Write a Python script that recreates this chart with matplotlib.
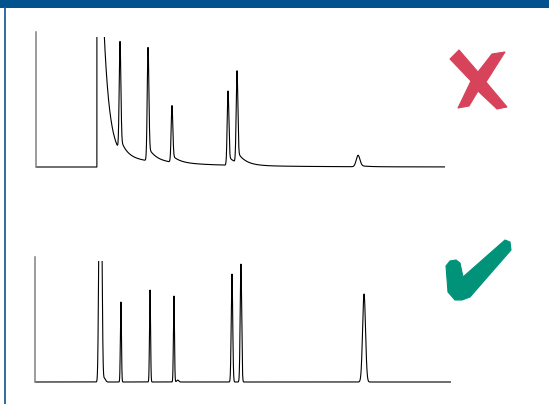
import numpy as np
import matplotlib
matplotlib.use("Agg")
import matplotlib.pyplot as plt
from matplotlib.patches import Polygon, Rectangle

W, H = 549, 404

# retention times in minutes, heights in % of full scale, widths (sigma) in minutes
# top trace: bad sample - solvent front with a long tail, tailing peaks
bad_front = 2.98
bad_front_amp = [322.0, 8.9]
bad_front_tau = [0.28, 3.4]
bad_times = [4.11, 5.48, 6.65, 9.39, 9.83, 15.75]
bad_heights = [81, 84, 42, 55, 68, 8.5]
bad_sigmas = [0.04, 0.04, 0.04, 0.04, 0.04, 0.09]
bad_tail = 0.12
bad_tail_tau = 0.4

# bottom trace: good sample - sharp symmetric peaks
good_times = [3.10, 3.19, 3.33, 4.13, 5.53, 6.68, 6.86, 9.47, 9.90, 15.82]
good_heights = [160, 150, 3, 64, 73.6, 68.8, 1.5, 86.4, 94.4, 70.4]
good_sigmas = [0.04, 0.04, 0.06, 0.025, 0.025, 0.025, 0.05, 0.035, 0.035, 0.07]

t = np.linspace(0, 20, 6000)


def peak(tr, h, s, frac=0.0, tau=1.0):
    g = np.exp(-0.5 * ((t - tr) / s) ** 2)
    tail = np.where(t >= tr, np.exp(-(t - tr) / tau), 0.0)
    right = (1 - frac) * g + frac * tail
    return h * np.where(t < tr, g, right)


bad = np.zeros_like(t)
dt = np.clip(t - bad_front, 0, None)
for a, tau in zip(bad_front_amp, bad_front_tau):
    bad += np.where(t >= bad_front, a * np.exp(-dt / tau), 0.0)
for tr, h, s in zip(bad_times, bad_heights, bad_sigmas):
    bad += peak(tr, h, s, bad_tail, bad_tail_tau)

good = np.zeros_like(t)
for tr, h, s in zip(good_times, good_heights, good_sigmas):
    good += peak(tr, h, s)


def place(x0, x1, base, top100, lo, hi):
    # axes rectangle from pixel positions of baseline and the 100% level
    ppu = (base - top100) / 100.0
    y_bot = base - lo * ppu
    y_top = base - hi * ppu
    return [x0 / W, 1 - y_bot / H, (x1 - x0) / W, (y_bot - y_top) / H]


fig = plt.figure(figsize=(W / 100, H / 100), dpi=100)

# frame decorations + marks, in pixel coordinates
ov = fig.add_axes([0, 0, 1, 1])
ov.set_xlim(0, W)
ov.set_ylim(H, 0)
ov.axis("off")
ov.add_patch(Rectangle((0, 0), W, 7.5, color="#02538D", lw=0))
ov.plot([4.5, 4.5], [7, H], color="#1F5F99", lw=1.3, solid_capstyle="butt")

cross = [(450, 59), (459, 50), (478, 72), (492, 54), (505, 52), (486, 82),
         (507, 107), (497, 109), (478, 91), (469, 106), (458, 108), (471, 81)]
ov.add_patch(Polygon(cross, closed=True, color="#D6435A", lw=0.8, joinstyle="round"))

check = [(446, 266), (450, 261), (456, 260), (460, 263), (463, 277), (505, 240),
         (510, 242), (511, 250), (470, 297), (462, 300), (455, 300), (448, 292)]
ov.add_patch(Polygon(check, closed=True, color="#00937A", lw=0.8, joinstyle="round"))

for trace, box, lo, hi in [(bad, (36, 445, 167, 32), -2, 96.3),
                           (good, (35, 451, 382, 257), -2, 96.8)]:
    ax = fig.add_axes(place(*box, lo, hi))
    ax.plot(t, trace, color="black", lw=0.8)
    ax.set_xlim(0, 20)
    ax.set_ylim(lo, hi)
    ax.patch.set_alpha(0)
    for side in ["top", "right", "bottom"]:
        ax.spines[side].set_visible(False)
    ax.spines["left"].set_color("#808080")
    ax.spines["left"].set_linewidth(1.1)
    ax.spines["left"].set_bounds(0, 100)
    ax.set_xticks([])
    ax.set_yticks([])

fig.savefig("out.png", dpi=100)
